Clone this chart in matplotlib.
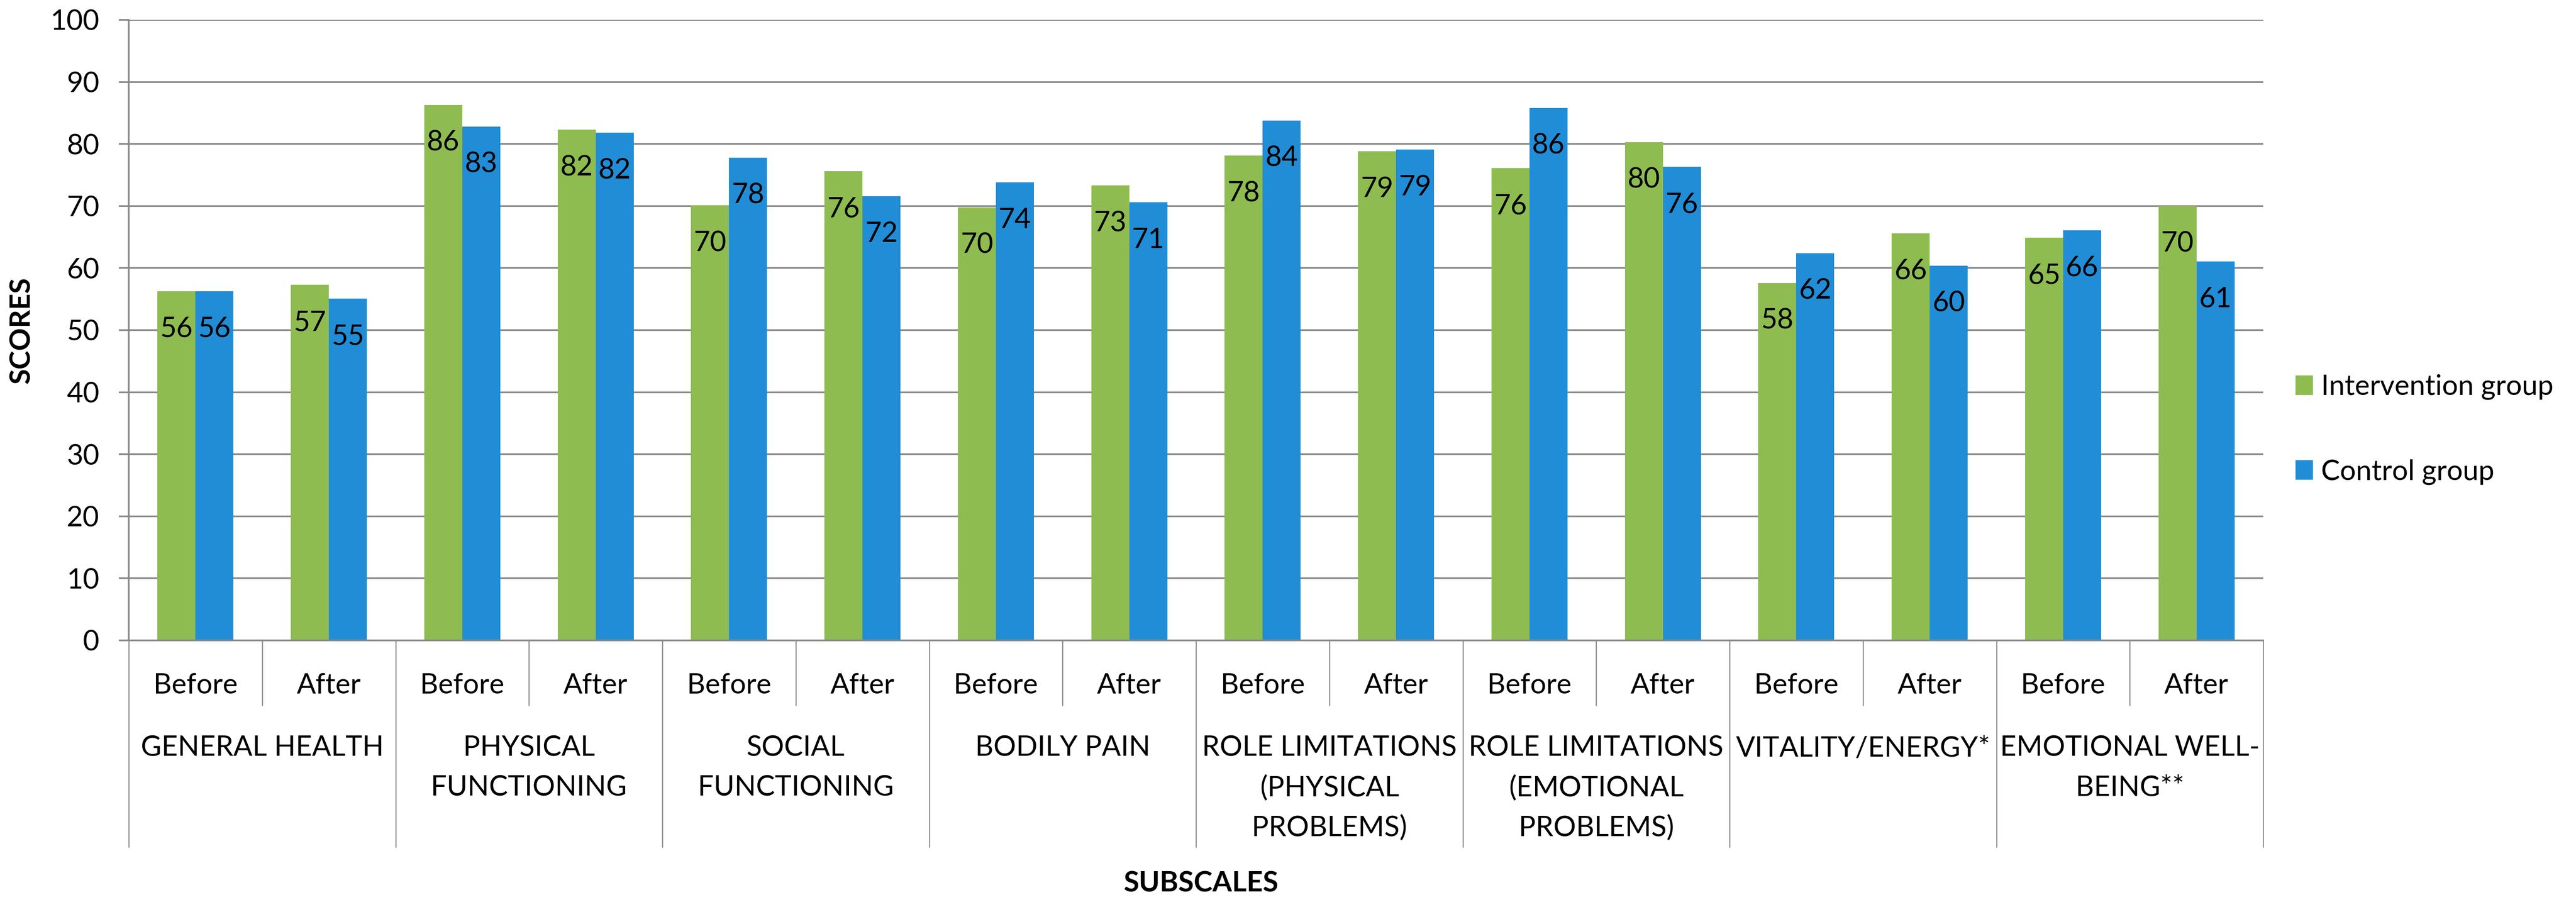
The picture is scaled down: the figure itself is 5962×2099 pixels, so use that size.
import matplotlib
matplotlib.use('Agg')
import matplotlib.pyplot as plt
import matplotlib.transforms as mtransforms
from matplotlib.patches import Patch
import numpy as np

# ---- data ----
groups = ['GENERAL HEALTH', 'PHYSICAL\nFUNCTIONING', 'SOCIAL\nFUNCTIONING', 'BODILY PAIN',
          'ROLE LIMITATIONS\n(PHYSICAL\nPROBLEMS)', 'ROLE LIMITATIONS\n(EMOTIONAL\nPROBLEMS)',
          'VITALITY/ENERGY*', 'EMOTIONAL WELL-\nBEING**']
phases = ['Before', 'After']
series_names = ['Intervention group', 'Control group']
intervention = [56.3, 57.3, 86.3, 82.3, 70.1, 75.6, 69.8, 73.3,
                78.1, 78.8, 76.1, 80.3, 57.6, 65.6, 64.9, 70.0]
control = [56.3, 55.05, 82.8, 81.8, 77.8, 71.6, 73.8, 70.6,
           83.8, 79.1, 85.8, 76.3, 62.4, 60.4, 66.1, 61.1]
yticks = [0, 10, 20, 30, 40, 50, 60, 70, 80, 90, 100]

# ---- style ----
plt.rcParams['font.family'] = ['Lato', 'DejaVu Sans']
W, H = 5962, 2099
DPI = 100
FS = 47
green = '#8EBC50'
blue = '#218DD6'
gc = '#898989'

fig = plt.figure(figsize=(W / DPI, H / DPI), dpi=DPI)
x0, x1 = 298, 5238
y_top, y_zero = 46, 1482
ax = fig.add_axes([x0 / W, 1 - y_zero / H, (x1 - x0) / W, (y_zero - y_top) / H])
axh = y_zero - y_top

n = len(intervention)
x = np.arange(n)
bw = 0.285
b1 = ax.bar(x - bw / 2, intervention, bw, color=green, label=series_names[0], zorder=2)
b2 = ax.bar(x + bw / 2, control, bw, color=blue, label=series_names[1], zorder=2)

for bars, vals in ((b1, intervention), (b2, control)):
    for r, v in zip(bars, vals):
        ax.annotate(f"{v:.0f}", (r.get_x() + r.get_width() / 2, v),
                    xytext=(0, -106 * 72 / DPI), textcoords='offset points',
                    ha='center', va='baseline', fontsize=FS, color='black', zorder=3)

ax.set_xlim(-0.5, n - 0.5)
ax.set_ylim(0, 100)
ax.set_yticks(yticks)
ax.set_xticks([])
ax.yaxis.grid(True, color=gc, lw=2.8)
ax.set_axisbelow(True)
for s in ('top', 'right'):
    ax.spines[s].set_visible(False)
for s in ('left', 'bottom'):
    ax.spines[s].set_color(gc)
    ax.spines[s].set_linewidth(2.8)
ax.tick_params(axis='y', length=23 * 72 / DPI, width=2.8, color=gc,
               pad=45 * 72 / DPI, labelsize=FS)

trans = mtransforms.blended_transform_factory(ax.transData, ax.transAxes)

def yax(py):
    return (y_zero - py) / axh

# dividers
short_end = yax(1632)
long_end = yax(1960)
for k in range(n + 1):
    xe = k - 0.5
    end = long_end if k % 2 == 0 else short_end
    ax.plot([xe, xe], [0, end], transform=trans, color=gc, lw=1.8, clip_on=False)

# phase labels
for i in range(n):
    ax.text(i, yax(1605), phases[i % 2], transform=trans, ha='center', va='baseline',
            fontsize=FS)

# group labels
for g, lab in enumerate(groups):
    for li, line in enumerate(lab.split('\n')):
        ax.text(2 * g + 0.5, yax(1750 + li * 92), line, transform=trans,
                ha='center', va='baseline', fontsize=FS)

fig.text(51 / W, 1 - 765 / H, 'SCORES', rotation=90, ha='center', va='center',
         fontsize=FS, fontweight='bold')
fig.text(2780 / W, 1 - 2045 / H, 'SUBSCALES', ha='center', va='center',
         fontsize=FS, fontweight='bold')

handles = [Patch(color=green), Patch(color=blue)]
fig.legend(handles, series_names, loc='center left',
           bbox_to_anchor=(5313 / W, 1 - (890 + 1097) / 2 / H),
           frameon=False, fontsize=FS, handlelength=0.6, handleheight=0.66,
           handletextpad=0.3, labelspacing=2.1, borderpad=0, borderaxespad=0)

fig.savefig('out.png', dpi=DPI)
